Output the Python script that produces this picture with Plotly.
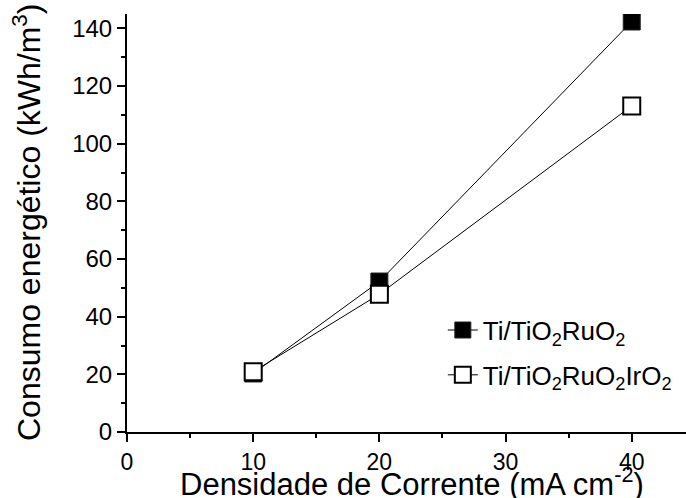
import plotly.graph_objects as go

x_vals = [10, 20, 40]
ruo2 = [20.3, 52.2, 142.4]
ruo2iro2 = [20.9, 47.8, 113.1]
series_names = ["Ti/TiO<sub>2</sub>RuO<sub>2</sub>", "Ti/TiO<sub>2</sub>RuO<sub>2</sub>IrO<sub>2</sub>"]
x_title = "Densidade de Corrente (mA cm<sup>-2</sup>)"
y_title = "Consumo energético (kWh/m<sup>3</sup>)"

FONT = "Liberation Sans, Arial, sans-serif"

fig = go.Figure()
fig.add_trace(go.Scatter(
    x=x_vals, y=ruo2, mode="lines+markers", name=series_names[0],
    line=dict(color="black", width=1),
    marker=dict(symbol="square", size=17, color="black", line=dict(color="#222", width=1)),
    legendgroup="a",
))
fig.add_trace(go.Scatter(
    x=x_vals, y=ruo2iro2, mode="lines+markers", name=series_names[1],
    line=dict(color="black", width=1),
    marker=dict(symbol="square", size=17, color="white", line=dict(color="black", width=2)),
    legendgroup="b",
))

axis_common = dict(
    showgrid=False, zeroline=False, showline=True, linecolor="black", linewidth=2,
    ticks="outside", ticklen=8, tickwidth=2, tickcolor="black",
)
fig.update_xaxes(
    range=[0, 44.3], tickvals=[0, 10, 20, 30, 40],
    tickfont=dict(family=FONT, size=23, color="black"),
    minor=dict(tickvals=[5, 15, 25, 35], ticklen=4, tickwidth=2, tickcolor="black", ticks="outside"),
    **axis_common,
)
fig.update_yaxes(
    range=[0, 145], tickvals=[0, 20, 40, 60, 80, 100, 120, 140],
    tickfont=dict(family=FONT, size=24, color="black"),
    minor=dict(tickvals=[10, 30, 50, 70, 90, 110, 130], ticklen=4, tickwidth=2, tickcolor="black", ticks="outside"),
    **axis_common,
)
fig.add_annotation(text=x_title, xref="paper", yref="paper", x=0.51, y=0,
                   xanchor="center", yanchor="middle", yshift=-50, showarrow=False,
                   font=dict(family=FONT, size=31, color="black"))
fig.add_annotation(text=y_title, xref="paper", yref="paper", x=0, y=0.5,
                   xanchor="center", yanchor="middle", xshift=-100, textangle=-90, showarrow=False,
                   font=dict(family=FONT, size=32, color="black"))
fig.update_layout(
    width=686, height=498,
    margin=dict(l=127, r=0, t=14, b=66),
    paper_bgcolor="white", plot_bgcolor="white",
    showlegend=True,
    legend=dict(x=0.565, y=0.3, xanchor="left", yanchor="top",
                font=dict(family=FONT, size=26, color="black"),
                bgcolor="rgba(0,0,0,0)", traceorder="grouped", tracegroupgap=8),
)
fig.write_html("out.html")
